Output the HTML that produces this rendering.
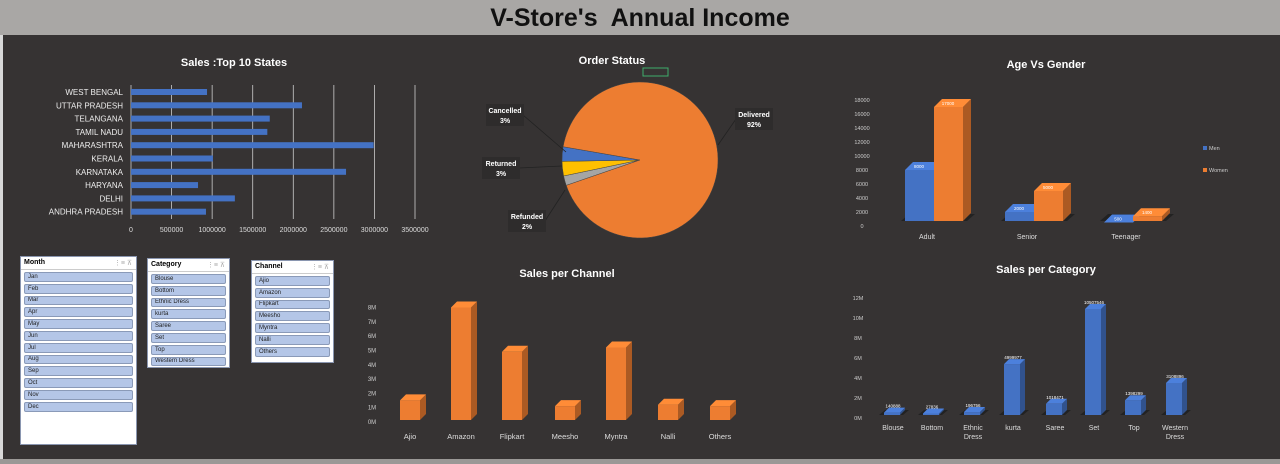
<!DOCTYPE html>
<html><head><meta charset="utf-8">
<style>
body{margin:0;width:1280px;height:464px;overflow:hidden;background:#363333;font-family:"Liberation Sans",sans-serif;}
#top{position:absolute;left:0;top:0;width:1280px;height:35px;background:#a9a7a5;}
#lstrip{position:absolute;left:0;top:35px;width:3px;height:425px;background:#d8d8d8;}
#title{position:absolute;left:0;top:4px;width:1280px;text-align:center;font-size:25px;font-weight:bold;color:#111;}
svg{position:absolute;left:0;top:0}
.sl{position:absolute;background:#fff;border:1px solid #8a96b0;box-sizing:border-box;}
.sl .h{font-size:7px;font-weight:bold;padding:2px 3px;border-bottom:1px solid #ccc;height:8px;position:relative}
.sl .h span{position:absolute;right:4px;color:#aaa;font-weight:normal}
.it{margin:2px 3px 0 3px;height:7.8px;background:#b4c6e7;border:1px solid #8a9ab8;border-radius:2px;font-size:6px;padding-left:3px;color:#222;display:flex;align-items:center;overflow:hidden}
</style></head><body>
<div id="top"></div>
<div id="lstrip"></div>
<div id="title">V-Store's&nbsp; Annual Income</div>
<svg id="c" width="1280" height="464"></svg>

<div class="sl" style="left:20px;top:256px;width:117px;height:189px">
<div class="h">Month<span>⋮≡ ⊼</span></div>
<div id="mi"></div></div>
<div class="sl" style="left:147px;top:258px;width:83px;height:110px">
<div class="h">Category<span>⋮≡ ⊼</span></div>
<div id="ci"></div></div>
<div class="sl" style="left:251px;top:260px;width:83px;height:103px">
<div class="h">Channel<span>⋮≡ ⊼</span></div>
<div id="chi"></div></div>

<script>
const states=["WEST BENGAL","UTTAR PRADESH","TELANGANA","TAMIL NADU","MAHARASHTRA","KERALA","KARNATAKA","HARYANA","DELHI","ANDHRA PRADESH"];
const stateSales=[937000,2107000,1710000,1680000,2990000,1010000,2650000,826000,1280000,924000];
const stateTicks=[0,500000,1000000,1500000,2000000,2500000,3000000,3500000];
const statusLabels=["Refunded","Returned","Cancelled","Delivered"];
const statusPct=[2,3,3,92];
const ageGroups=["Adult","Senior","Teenager"];
const menVals=[8000,2000,500];
const womenVals=[17000,5000,1400];
const ageTicks=[0,2000,4000,6000,8000,10000,12000,14000,16000,18000];
const channels=["Ajio","Amazon","Flipkart","Meesho","Myntra","Nalli","Others"];
const channelSales=[1.3,7.8,4.7,0.9,5.0,1.0,0.9];
const channelTicks=[0,1,2,3,4,5,6,7,8];
const categories=["Blouse","Bottom","Ethnic Dress","kurta","Saree","Set","Top","Western Dress"];
const categorySales=[0.14,0.028,0.196,4.99,1.02,10.5,1.38,3.1];
const categoryLabels=["140888","27836","196756","4999977","1018471","10507546","1398299","3108896"];
const categoryTicks=[0,2,4,6,8,10,12];
const months=["Jan","Feb","Mar","Apr","May","Jun","Jul","Aug","Sep","Oct","Nov","Dec"];

const S=document.getElementById('c');const NS="http://www.w3.org/2000/svg";
function el(t,a,txt){const e=document.createElementNS(NS,t);for(const k in a)e.setAttribute(k,a[k]);if(txt!==undefined)e.textContent=txt;S.appendChild(e);return e;}
function tx(x,y,s,sz,anc,col,bold){return el('text',{x:x,y:y,'font-size':sz,'text-anchor':anc||'middle',fill:col||'#ddd','font-weight':bold?'bold':'normal','font-family':'Liberation Sans, sans-serif'},s);}
function shade(c,f){const n=parseInt(c.slice(1),16);let r=n>>16,g=(n>>8)&255,b=n&255;return `rgb(${Math.min(255,Math.round(r*f))},${Math.min(255,Math.round(g*f))},${Math.min(255,Math.round(b*f))})`;}
function bar3d(x,y0,w,h,d,col,name){
 const g=el('g',{});
 
 
 const a=(t,at)=>{const e=document.createElementNS(NS,t);for(const k in at)e.setAttribute(k,at[k]);g.appendChild(e);};
 a('rect',{x:x,y:y0-h,width:w,height:h,fill:col});
 a('polygon',{points:`${x+w},${y0} ${x+w+d},${y0-d} ${x+w+d},${y0-h-d} ${x+w},${y0-h}`,fill:shade(col,0.72)});
 a('polygon',{points:`${x},${y0-h} ${x+d},${y0-h-d} ${x+w+d},${y0-h-d} ${x+w},${y0-h}`,fill:shade(col,1.12)});
}

tx(234,66,"Sales :Top 10 States",11,'middle','#fff',true);
const sx=v=>131+v/3500000*284;
stateTicks.forEach(t=>{
 if(t>0){const l=el('line',{x1:sx(t),y1:85,x2:sx(t),y2:219,stroke:'#ccc','stroke-width':0.8});}
 const lb=tx(sx(t),232,String(t),7);
});
el('line',{x1:131,y1:85,x2:131,y2:219,stroke:'#ccc','stroke-width':0.8});
states.forEach((s,i)=>{
 const y=92+i*13.3;
 const l=tx(123,y+3,s,8,'end','#eee');
 const r=el('rect',{x:131,y:y-3,width:sx(stateSales[i])-131,height:6,fill:'#4472c4'});
 
 
});

tx(612,64,"Order Status",11,'middle','#fff',true);
el('rect',{x:643,y:68,width:25,height:8,fill:'none',stroke:'#3fae6b','stroke-width':1});
const cx=640,cy=160,R=78;const pcols=['#a5a5a5','#ffc000','#4472c4','#ed7d31'];
let ang=161;const total=statusPct.reduce((a,b)=>a+b,0);
statusPct.forEach((p,i)=>{
 const sw=p/total*360;const a1=ang*Math.PI/180,a2=(ang+sw)*Math.PI/180;
 const large=sw>180?1:0;
 const path=el('path',{d:`M${cx},${cy} L${cx+R*Math.cos(a1)},${cy+R*Math.sin(a1)} A${R},${R} 0 ${large} 1 ${cx+R*Math.cos(a2)},${cy+R*Math.sin(a2)} Z`,fill:pcols[i],stroke:'#444','stroke-width':0.5});
 
 
 ang+=sw;
});
const pl=[[527,221,565,190],[501,168,562,166],[505,115,566,152],[754,119,718,145]];
statusLabels.forEach((s,i)=>{
 const [x,y,lx,ly]=pl[i];
 el('line',{x1:x+(i==3?-18:18),y1:y,x2:lx,y2:ly,stroke:'#222','stroke-width':0.8});
 el('rect',{x:x-19,y:y-11,width:38,height:22,fill:'#2e2c2c'});
 tx(x,y-2,s,7,'middle','#fff',true);
 tx(x,y+8,statusPct[i]+'%',7,'middle','#fff',true);
});

tx(1046,68,"Age Vs Gender",11,'middle','#fff',true);
const ay=v=>226-v/18000*126;
ageTicks.forEach(t=>{tx(862,ay(t)+2,String(t),5.5,'middle','#ccc');});
const agx=[905,1005,1104];
ageGroups.forEach((g,i)=>{
 el('polygon',{points:`${agx[i]-4},${221} ${agx[i]+62},${221} ${agx[i]+70},${214} ${agx[i]+4},${214}`,fill:'#222'});
 bar3d(agx[i],221,29,221-ay(menVals[i]),8,'#4472c4','men-bar');
 bar3d(agx[i]+29,221,29,221-ay(womenVals[i]),8,'#ed7d31','women-bar');
 tx(agx[i]+14,ay(menVals[i])-2,String(menVals[i]),4.5,'middle','#fff');
 tx(agx[i]+43,ay(womenVals[i])-2,String(womenVals[i]),4.5,'middle','#fff');
 tx(agx[i]+22,239,g,7,'middle','#ddd');
});
el('rect',{x:1203,y:146,width:4,height:4,fill:'#4472c4'});tx(1209,150,"Men",5.5,'start','#ccc');
el('rect',{x:1203,y:168,width:4,height:4,fill:'#ed7d31'});tx(1209,172,"Women",5.5,'start','#ccc');

tx(567,277,"Sales per Channel",11,'middle','#fff',true);
const cyS=v=>419-v*14.3;
channelTicks.forEach(t=>{tx(372,cyS(t)+5,t+'M',6,'middle','#ccc');});
const chx=[410,461,512,565,616,668,720];
channels.forEach((c,i)=>{
 bar3d(chx[i]-10,420,20,420-cyS(channelSales[i]),6,'#ed7d31','channel-bar');
 tx(chx[i],439,c,7.5,'middle','#ddd');
});

tx(1046,273,"Sales per Category",11,'middle','#fff',true);
const kyS=v=>414-v*10;
categoryTicks.forEach(t=>{tx(858,kyS(t)+6,t+'M',5.5,'middle','#ccc');});
const kx=[893,932,973,1013,1055,1094,1134,1175];
categories.forEach((c,i)=>{
 el('polygon',{points:`${kx[i]-14},415 ${kx[i]+10},415 ${kx[i]+16},410 ${kx[i]-8},410`,fill:'#222'});
 bar3d(kx[i]-9,415,16,Math.max(1.5,415-kyS(categorySales[i])),5,'#4472c4','category-bar');
 tx(kx[i],kyS(categorySales[i])-5,categoryLabels[i],4.5,'middle','#fff');
 const parts=c.split(' ');
 parts.forEach((p,j)=>{tx(kx[i],430+j*9,p,7,'middle','#ddd');});
});

el('rect',{x:0,y:459,width:1280,height:5,fill:'#9a9896'});

function fill(id,arr,name){const d=document.getElementById(id);arr.forEach(a=>{const e=document.createElement('div');e.className='it';e.textContent=a;
 
 
 d.appendChild(e);});}
fill('mi',months,'month-option');
fill('ci',categories,'category-option');
fill('chi',channels,'channel-option');
</script>
</body></html>
